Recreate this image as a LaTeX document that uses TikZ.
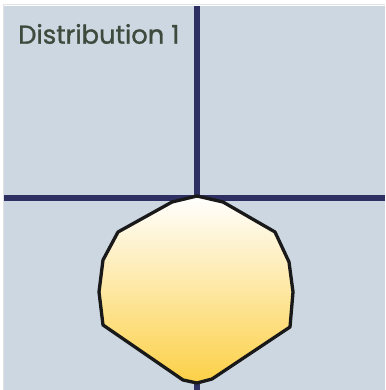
\documentclass[tikz,border=0pt]{standalone}
\usepackage{fontspec}
\setmainfont{Poppins}
\newfontfamily\titlefont{Poppins}[FakeBold=1.2]
\definecolor{panel}{RGB}{205,215,225}
\definecolor{navy}{RGB}{46,48,100}
\definecolor{labelc}{RGB}{63,74,62}
\definecolor{gold}{RGB}{252,208,70}
\definecolor{edge}{RGB}{224,226,228}
\tikzset{
  axisline/.style={navy, line width=6.5pt},
  blob/.style={draw=black!90, line width=3.3pt, line join=round, top color=white, bottom color=gold},
  titletext/.style={font=\titlefont\fontsize{25.8}{29}\selectfont, text=labelc, anchor=west, inner sep=0pt}
}
\begin{document}
\begin{tikzpicture}[x=1pt,y=-1pt]
\useasboundingbox (0,0) rectangle (385,390);
\fill[white] (0,0) rectangle (385,390);
\fill[panel] (4,6) rectangle (385,390);
\draw[edge, line width=1pt] (3.5,4.5) -- (385,4.5);
\draw[edge, line width=1pt] (3,4.5) -- (3,390);
\draw[axisline] (197,6) -- (197,390);
\draw[axisline] (4,198) -- (385,198);
\path[blob] (197,196) -- (223,202) -- (275,232) -- (289,262) -- (293,292) -- (290,327) -- (212,379) -- (197,383) -- (183,380) -- (103,325) -- (99,292) -- (103,260) -- (118,232) -- (172,202) -- cycle;
\node[titletext] (title) at (18,34) {Distribution 1};
\end{tikzpicture}
\end{document}
